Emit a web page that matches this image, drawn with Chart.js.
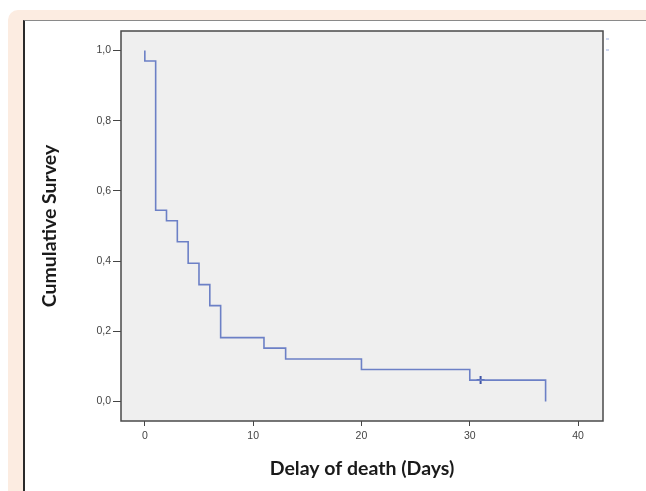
<!DOCTYPE html>
<html>
<head>
<meta charset="utf-8">
<script src="https://cdn.jsdelivr.net/npm/chart.js@4.4.0/dist/chart.umd.min.js"></script>
<style>
  html, body { margin: 0; padding: 0; background: #fff; }
  #page { position: relative; width: 646px; height: 491px; overflow: hidden; }
  #peach { position: absolute; left: 8px; top: 10px; width: 700px; height: 481px;
           background: #fcece1; border-top-left-radius: 10px; }
  #panel { position: absolute; left: 23px; top: 20px; width: 700px; height: 480px;
           background: #fff; border-left: 2px solid #2a2a2a; border-top: 1px solid #8a8a8a; }
  #chartBox { position: absolute; left: 0; top: 0; width: 646px; height: 491px; }
</style>
</head>
<body>
<div id="page">
  <div id="peach"></div>
  <div id="panel"></div>
  <div id="chartBox"><canvas id="survivalChart"></canvas></div>
</div>
<script>
// Kaplan-Meier steps (days, cumulative survival)
const stepDays = [0, 0, 1, 2, 3, 4, 5, 6, 7, 11, 13, 20, 30, 37];
const stepSurvival = [1.0, 0.970, 0.545, 0.515, 0.455, 0.394, 0.333, 0.273, 0.182, 0.152, 0.121, 0.091, 0.061, 0.0];
// censored observations
const censoredDays = [31];
const censoredSurvival = [0.061];
const xTicks = [0, 10, 20, 30, 40];
const yTicks = [0, 0.2, 0.4, 0.6, 0.8, 1.0];

const lineColor = '#6c80c6';
const axisColor = '#444';

const framePlugin = {
    id: 'frame',
    beforeDatasetsDraw(chart) {
        const a = chart.chartArea;
        const ctx = chart.ctx;
        ctx.save();
        ctx.fillStyle = '#efefef';
        ctx.fillRect(a.left, a.top, a.right - a.left, a.bottom - a.top);
        ctx.restore();
    },
    afterDraw(chart) {
        const a = chart.chartArea;
        const ctx = chart.ctx;
        ctx.save();
        ctx.strokeStyle = '#4a4a4a';
        ctx.lineWidth = 1.5;
        ctx.strokeRect(a.left, a.top, a.right - a.left, a.bottom - a.top);
        // truncated legend marks
        ctx.strokeStyle = '#9fb0e0';
        ctx.lineWidth = 1;
        ctx.beginPath();
        ctx.moveTo(a.right + 3, a.top + 8); ctx.lineTo(a.right + 6, a.top + 8);
        ctx.moveTo(a.right + 3, a.top + 19); ctx.lineTo(a.right + 6, a.top + 19);
        ctx.stroke();
        ctx.restore();
    }
};

new Chart(document.getElementById('survivalChart'), {
    type: 'line',
    data: {
        datasets: [{
            data: stepDays.map((d, i) => ({ x: d, y: stepSurvival[i] })),
            borderColor: lineColor,
            borderWidth: 1.6,
            stepped: 'before',
            pointRadius: 0,
            fill: false
        }, {
            type: 'scatter',
            data: censoredDays.map((d, i) => ({ x: d, y: censoredSurvival[i] })),
            pointStyle: 'cross',
            pointRadius: 4,
            borderColor: '#3f54a6',
            borderWidth: 2,
            showLine: false
        }]
    },
    plugins: [framePlugin],
    options: {
        responsive: true,
        maintainAspectRatio: false,
        animation: false,
        layout: { padding: { left: 30, top: 31, right: 43, bottom: 0 } },
        plugins: { legend: { display: false }, tooltip: { enabled: false } },
        scales: {
            x: {
                type: 'linear',
                min: -2.2,
                max: 42.3,
                afterBuildTicks: s => { s.ticks = xTicks.map(v => ({ value: v })); },
                afterFit: s => { s.height = 70; },
                grid: { drawOnChartArea: false, drawTicks: true, tickLength: 5, color: axisColor },
                border: { display: false },
                ticks: { padding: 4, color: '#444', font: { family: 'Liberation Sans', size: 10.5 },
                         callback: v => String(v), maxRotation: 0 },
                title: { display: true, text: 'Delay of death (Days)', color: '#1a1a1a',
                         font: { family: 'Lato', size: 19.5, weight: 'bold' },
                         padding: { top: 0, bottom: 11 } }
            },
            y: {
                min: -0.0556,
                max: 1.0556,
                afterBuildTicks: s => { s.ticks = yTicks.map(v => ({ value: v })); },
                afterFit: s => { s.width = 91; },
                grid: { drawOnChartArea: false, drawTicks: true, tickLength: 8, color: axisColor },
                border: { display: false },
                ticks: { padding: 2, color: '#444', font: { family: 'Liberation Sans', size: 10.5 },
                         callback: v => v.toFixed(1).replace('.', ',') },
                title: { display: true, text: 'Cumulative Survey', color: '#1a1a1a',
                         font: { family: 'Lato', size: 19.5, weight: 'bold' },
                         padding: { top: 8, bottom: 0 } }
            }
        }
    }
});
</script>
</body>
</html>
